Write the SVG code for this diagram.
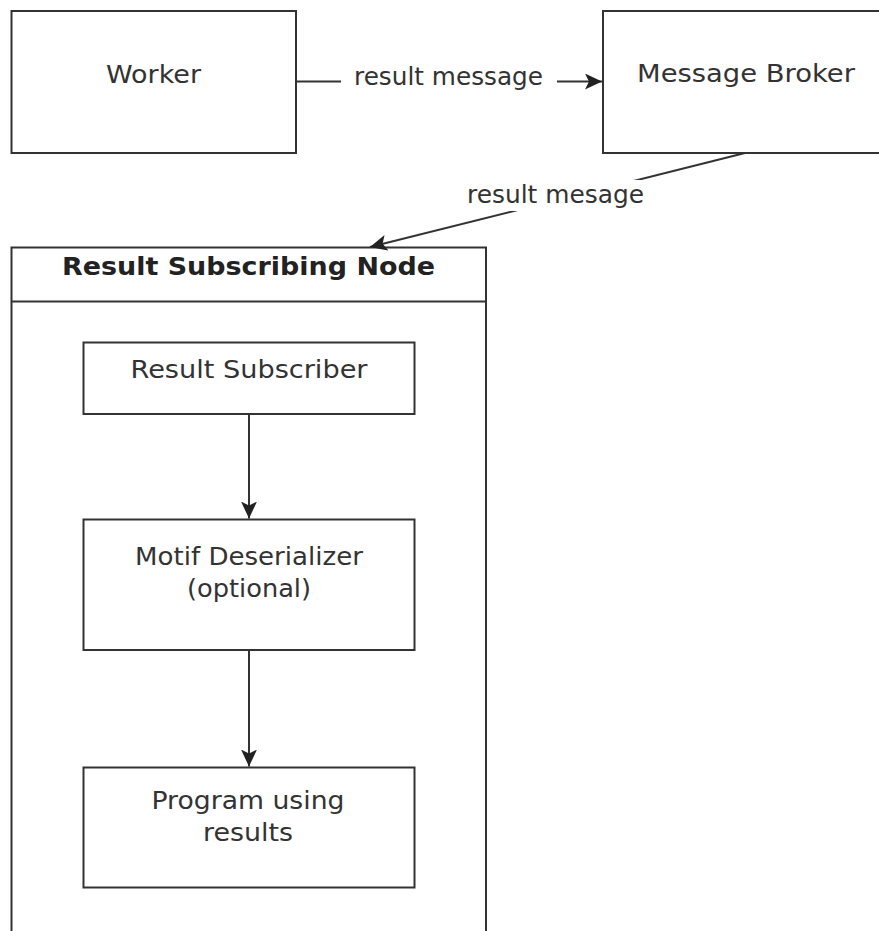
<svg xmlns="http://www.w3.org/2000/svg" width="879" height="931" viewBox="0 0 879 931">
  <style>
    .box { fill: #ffffff; stroke: #333333; stroke-width: 2; }
    .edge { fill: none; stroke: #333333; stroke-width: 2; }
    .lbl { font-family: "DejaVu Sans", "Liberation Sans", sans-serif; font-size: 25px; fill: #333333; }
    .title { font-family: "DejaVu Sans", "Liberation Sans", sans-serif; font-size: 25px; font-weight: bold; fill: #222222; }
    .bg { fill: #ffffff; stroke: none; }
  </style>
  <defs>
    <marker id="arrow" markerUnits="userSpaceOnUse" markerWidth="18" markerHeight="16" refX="17" refY="8" orient="auto" viewBox="0 0 18 16">
      <path d="M0,0 L17,8 L0,16 L4,8 Z" fill="#222222"/>
    </marker>
  </defs>
  <rect width="879" height="931" fill="#ffffff"/>

  <!-- Worker -->
  <g id="worker">
    <rect class="box" x="11.5" y="11" width="284.5" height="142"/>
    <text class="lbl" x="153.5" y="82.5" text-anchor="middle" textLength="95" lengthAdjust="spacingAndGlyphs">Worker</text>
  </g>

  <!-- Message Broker -->
  <g id="message-broker">
    <rect class="box" x="603" y="11" width="286" height="142"/>
    <text class="lbl" x="746" y="82" text-anchor="middle" textLength="218" lengthAdjust="spacingAndGlyphs">Message Broker</text>
  </g>

  <!-- Result Subscribing Node (container) -->
  <g id="result-subscribing-node">
    <rect class="box" x="11.5" y="247.5" width="474.5" height="720"/>
    <line class="edge" x1="11.5" y1="301.5" x2="486" y2="301.5"/>
    <text class="title" x="248.5" y="274.5" text-anchor="middle" textLength="373" lengthAdjust="spacingAndGlyphs">Result Subscribing Node</text>
  </g>

  <!-- Result Subscriber -->
  <g id="result-subscriber">
    <rect class="box" x="83.5" y="342.5" width="331" height="71.5"/>
    <text class="lbl" x="249" y="377.5" text-anchor="middle" textLength="237" lengthAdjust="spacingAndGlyphs">Result Subscriber</text>
  </g>

  <!-- Motif Deserializer -->
  <g id="motif-deserializer">
    <rect class="box" x="83.5" y="519.5" width="331" height="130.5"/>
    <text class="lbl" x="249" y="564.5" text-anchor="middle" textLength="228" lengthAdjust="spacingAndGlyphs">Motif Deserializer</text>
    <text class="lbl" x="249" y="597" text-anchor="middle" textLength="124" lengthAdjust="spacingAndGlyphs">(optional)</text>
  </g>

  <!-- Program using results -->
  <g id="program-using-results">
    <rect class="box" x="83.5" y="767.5" width="331" height="120"/>
    <text class="lbl" x="248" y="808.5" text-anchor="middle" textLength="193" lengthAdjust="spacingAndGlyphs">Program using</text>
    <text class="lbl" x="248" y="841" text-anchor="middle" textLength="90" lengthAdjust="spacingAndGlyphs">results</text>
  </g>

  <!-- Connectors -->
  <g id="connectors">
    <!-- Worker -> Message Broker -->
    <line class="edge" x1="296" y1="81.5" x2="602" y2="81.5" marker-end="url(#arrow)"/>
    <rect class="bg" x="341" y="66" width="216" height="30"/>
    <text class="lbl" x="448.5" y="84.5" text-anchor="middle" textLength="189" lengthAdjust="spacingAndGlyphs">result message</text>

    <!-- Message Broker -> Result Subscribing Node -->
    <line class="edge" x1="745" y1="153" x2="370" y2="247" marker-end="url(#arrow)"/>
    <rect class="bg" x="462" y="180" width="187" height="31"/>
    <text class="lbl" x="555.5" y="203" text-anchor="middle" textLength="177" lengthAdjust="spacingAndGlyphs">result mesage</text>

    <!-- Result Subscriber -> Motif Deserializer -->
    <line class="edge" x1="249" y1="414" x2="249" y2="518.5" marker-end="url(#arrow)"/>

    <!-- Motif Deserializer -> Program using results -->
    <line class="edge" x1="249" y1="650" x2="249" y2="766.5" marker-end="url(#arrow)"/>
  </g>
</svg>
